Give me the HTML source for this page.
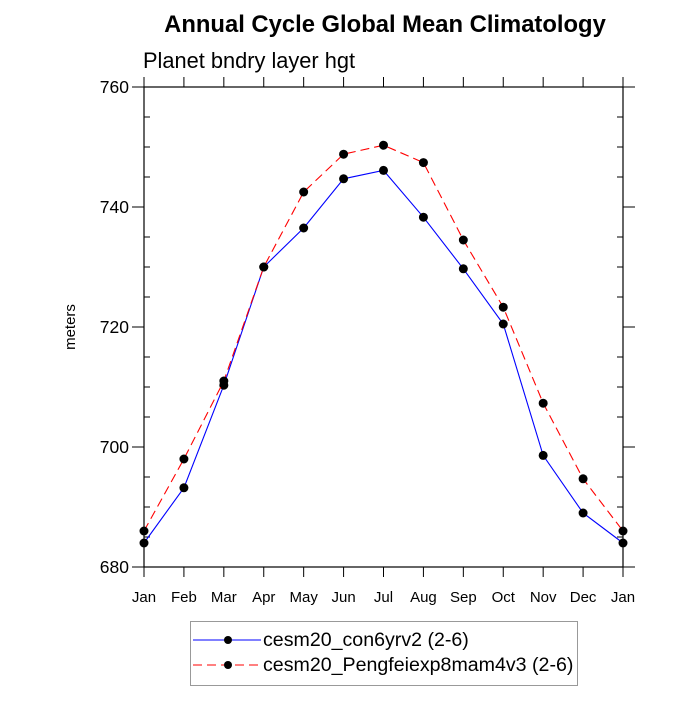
<!DOCTYPE html>
<html><head><meta charset="utf-8"><style>
body{margin:0;background:#fff;font-family:"Liberation Sans",sans-serif}
</style></head><body>
<svg width="700" height="700" xmlns="http://www.w3.org/2000/svg" font-family="Liberation Sans, sans-serif">
<text x="385" y="32" text-anchor="middle" font-size="23.8" font-weight="bold">Annual Cycle Global Mean Climatology</text>
<text x="143" y="68" font-size="21.8">Planet bndry layer hgt</text>
<text transform="translate(75,327) rotate(-90)" text-anchor="middle" font-size="15">meters</text>
<g id="axes"></g>
<g id="series"></g>
<g id="legend">
<rect x="190.5" y="621.5" width="387" height="64" fill="#fff" stroke="#999"/>
<g>
<line x1="193" y1="640" x2="261" y2="640" stroke="#00f"/>
<circle cx="228" cy="640" r="4" fill="#000"/>
<text x="263" y="646" font-size="19.6">cesm20_con6yrv2 (2-6)</text></g>
<g>
<line x1="193" y1="665" x2="261" y2="665" stroke="#f00" stroke-dasharray="9,5"/>
<circle cx="228" cy="665" r="4" fill="#000"/>
<text x="263" y="671" font-size="19.6">cesm20_Pengfeiexp8mam4v3 (2-6)</text></g>
</g>
</svg>
<script>
const months=["Jan","Feb","Mar","Apr","May","Jun","Jul","Aug","Sep","Oct","Nov","Dec","Jan"];
const yTicks=[680,700,720,740,760];
const con6yrv2=[684,693.2,710.3,730,736.5,744.7,746.1,738.3,729.7,720.5,698.6,689,684];
const pengfei=[686,698,711,730,742.5,748.8,750.3,747.4,734.5,723.3,707.3,694.7,686];
const X0=144,X1=623,Y0=567,Y1=87,YMIN=680,YMAX=760;
const xs=i=>X0+(X1-X0)*i/(months.length-1);
const ys=v=>Y0-(v-YMIN)*(Y0-Y1)/(YMAX-YMIN);
const NS="http://www.w3.org/2000/svg";
function mk(t,a,p){const e=document.createElementNS(NS,t);for(const k in a)e.setAttribute(k,a[k]);p.appendChild(e);return e;}
const ax=document.getElementById('axes');
const fr=mk('rect',{x:X0,y:Y1,width:X1-X0,height:Y0-Y1,fill:'none',stroke:'#000','stroke-width':1.2},ax);


months.forEach((m,i)=>{const x=xs(i);
mk('line',{x1:x,y1:Y0,x2:x,y2:Y0+10,stroke:'#000'},ax);
mk('line',{x1:x,y1:Y1,x2:x,y2:Y1-10,stroke:'#000'},ax);
const t=mk('text',{x:x,y:Y0+35,'text-anchor':'middle','font-size':15},ax);t.textContent=m;

});
for(let v=YMIN;v<=YMAX;v+=5){const y=ys(v);
if(v%20===0){mk('line',{x1:X0-12,y1:y,x2:X0,y2:y,stroke:'#000'},ax);mk('line',{x1:X1,y1:y,x2:X1+12,y2:y,stroke:'#000'},ax);}
else{mk('line',{x1:X0,y1:y,x2:X0+6,y2:y,stroke:'#000'},ax);mk('line',{x1:X1-6,y1:y,x2:X1,y2:y,stroke:'#000'},ax);}}
yTicks.forEach(v=>{const t=mk('text',{x:X0-15,y:ys(v)+6,'text-anchor':'end','font-size':17.5},ax);t.textContent=v;

});
const sg=document.getElementById('series');
function series(d,col,dash,name){const g=mk('g',{},sg);


const a={points:d.map((v,i)=>xs(i)+','+ys(v)).join(' '),fill:'none',stroke:col,'stroke-width':1.1};if(dash)a['stroke-dasharray']=dash;mk('polyline',a,g);
d.forEach((v,i)=>{const c=mk('circle',{cx:xs(i),cy:ys(v),r:4.5,fill:'#000'},g);

});}
series(con6yrv2,'#00f',null,'series-con6yrv2');
series(pengfei,'#f00','9,5','series-pengfei');
</script>
</body></html>
